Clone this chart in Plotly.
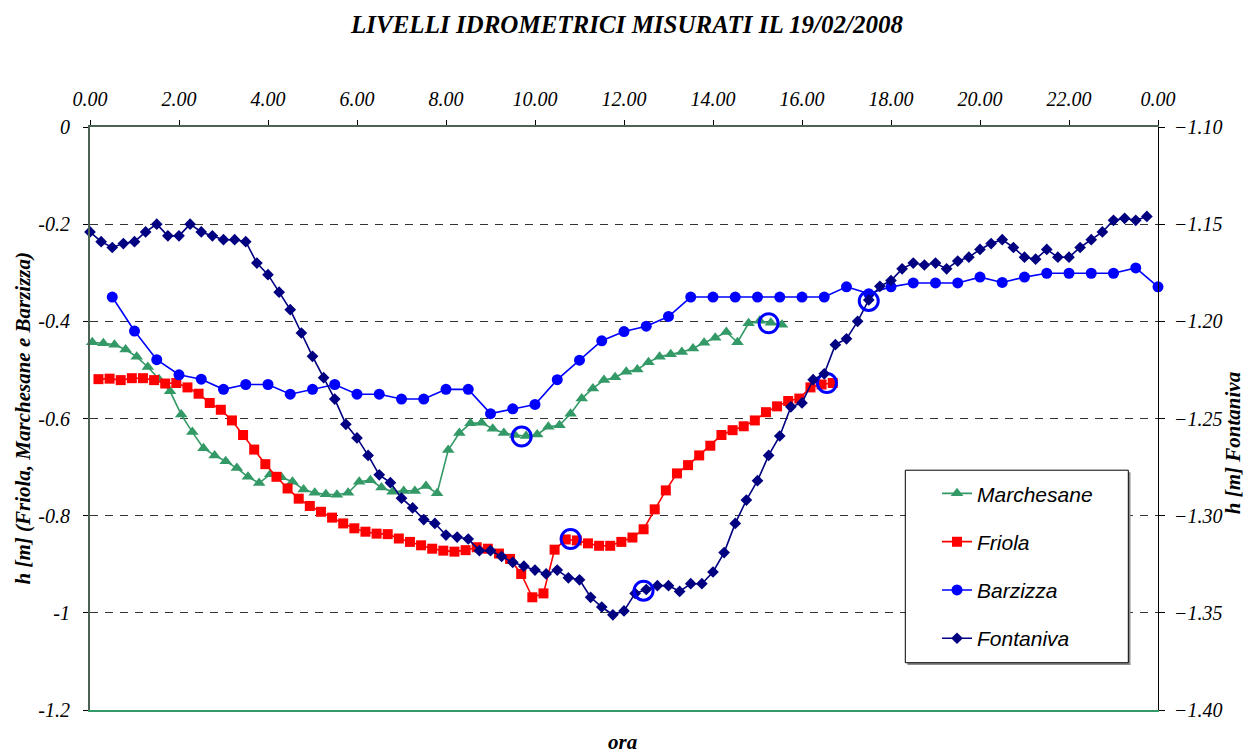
import plotly.graph_objects as go

# ---------------- data ----------------
hour_ticks = [0, 2, 4, 6, 8, 10, 12, 14, 16, 18, 20, 22, 24]
hour_labels = ["0.00", "2.00", "4.00", "6.00", "8.00", "10.00", "12.00",
               "14.00", "16.00", "18.00", "20.00", "22.00", "0.00"]

left_ticks = [0, -0.2, -0.4, -0.6, -0.8, -1.0, -1.2]
left_labels = ["0", "-0.2", "-0.4", "-0.6", "-0.8", "-1", "-1.2"]

# Marchesane: first reading 0.05 h, every 15 min
marchesane_start, marchesane_step = 0.05, 0.25
marchesane = [-0.443, -0.445, -0.448, -0.458, -0.473, -0.494, -0.519, -0.544,
              -0.592, -0.628, -0.661, -0.676, -0.688, -0.702, -0.720, -0.733,
              -0.715, -0.721, -0.730, -0.746, -0.753, -0.756, -0.757, -0.753,
              -0.730, -0.727, -0.742, -0.751, -0.749, -0.749, -0.739, -0.754,
              -0.665, -0.630, -0.610, -0.609, -0.621, -0.630, -0.634, -0.636,
              -0.633, -0.617, -0.614, -0.590, -0.559, -0.538, -0.521, -0.515,
              -0.504, -0.499, -0.484, -0.473, -0.468, -0.463, -0.456, -0.444,
              -0.434, -0.422, -0.443, -0.404, -0.399, -0.403, -0.407]

# Friola: first reading 0.19 h, every 15 min
friola_start, friola_step = 0.19, 0.25
friola = [-0.519, -0.518, -0.521, -0.517, -0.517, -0.521, -0.528, -0.527,
          -0.536, -0.549, -0.568, -0.582, -0.604, -0.634, -0.664, -0.694,
          -0.720, -0.744, -0.765, -0.780, -0.792, -0.804, -0.816, -0.826,
          -0.833, -0.837, -0.838, -0.847, -0.854, -0.861, -0.868, -0.872,
          -0.874, -0.871, -0.865, -0.868, -0.878, -0.889, -0.920, -0.968,
          -0.960, -0.870, -0.849, -0.851, -0.857, -0.862, -0.862, -0.854,
          -0.845, -0.828, -0.787, -0.748, -0.713, -0.696, -0.676, -0.656,
          -0.634, -0.624, -0.616, -0.604, -0.587, -0.575, -0.564, -0.559,
          -0.536, -0.530, -0.527]

# Barzizza: first reading 0.5 h, every 30 min
barzizza_start, barzizza_step = 0.5, 0.5
barzizza = [-0.350, -0.420, -0.479, -0.510, -0.519, -0.540, -0.530, -0.530,
            -0.550, -0.540, -0.530, -0.550, -0.550, -0.560, -0.560, -0.540,
            -0.540, -0.590, -0.580, -0.571, -0.520, -0.480, -0.440, -0.421,
            -0.410, -0.390, -0.350, -0.350, -0.350, -0.350, -0.350, -0.350,
            -0.350, -0.329, -0.343, -0.329, -0.321, -0.321, -0.321, -0.309,
            -0.320, -0.309, -0.301, -0.301, -0.301, -0.301, -0.290, -0.329]

# Fontaniva (right axis): first reading 0.0 h, every 15 min
fontaniva_start, fontaniva_step = 0.0, 0.25
fontaniva = [-1.154, -1.159, -1.162, -1.160, -1.159, -1.154, -1.150, -1.156,
             -1.156, -1.150, -1.154, -1.156, -1.158, -1.158, -1.159, -1.170,
             -1.176, -1.185, -1.194, -1.206, -1.218, -1.229, -1.240, -1.253,
             -1.260, -1.269, -1.279, -1.283, -1.291, -1.296, -1.302, -1.304,
             -1.310, -1.311, -1.312, -1.318, -1.318, -1.321, -1.324, -1.326,
             -1.328, -1.330, -1.328, -1.332, -1.333, -1.342, -1.347, -1.351,
             -1.349, -1.340, -1.338, -1.336, -1.336, -1.339, -1.335, -1.335,
             -1.329, -1.319, -1.304, -1.292, -1.282, -1.269, -1.259, -1.244,
             -1.242, -1.230, -1.227, -1.212, -1.209, -1.200, -1.189, -1.182,
             -1.179, -1.173, -1.170, -1.171, -1.170, -1.173, -1.169, -1.167,
             -1.163, -1.160, -1.158, -1.162, -1.167, -1.168, -1.163, -1.167,
             -1.167, -1.162, -1.158, -1.154, -1.148, -1.147, -1.148, -1.146]

# highlighted readings (blue rings)
ring_left_t = [9.70, 15.25, 10.80, 16.56]
ring_left_h = [-0.637, -0.404, -0.848, -0.527]
ring_right_t = [12.44, 17.50]
ring_right_h = [-1.3386, -1.1895]


def times(start, step, n):
    return [round(start + i * step, 3) for i in range(n)]


SERIF = "Liberation Serif"
SANS = "Liberation Sans"
AXIS_COL = "#4a6354"

fig = go.Figure()

fig.add_trace(go.Scatter(
    x=times(marchesane_start, marchesane_step, len(marchesane)), y=marchesane,
    name="Marchesane", legendgroup="m", mode="lines+markers",
    line=dict(color="#339966", width=1.6),
    marker=dict(symbol="triangle-up", size=11, color="#339966"),
    xaxis="x", yaxis="y", cliponaxis=False))

fig.add_trace(go.Scatter(
    x=times(friola_start, friola_step, len(friola)), y=friola,
    name="Friola", legendgroup="f", mode="lines+markers",
    line=dict(color="#FF0000", width=1.6),
    marker=dict(symbol="square", size=10, color="#FF0000"),
    xaxis="x", yaxis="y", cliponaxis=False))

fig.add_trace(go.Scatter(
    x=times(barzizza_start, barzizza_step, len(barzizza)), y=barzizza,
    name="Barzizza", legendgroup="b", mode="lines+markers",
    line=dict(color="#0000FF", width=1.6),
    marker=dict(symbol="circle", size=11, color="#0000FF"),
    xaxis="x", yaxis="y", cliponaxis=False))

fig.add_trace(go.Scatter(
    x=ring_left_t, y=ring_left_h, mode="markers", showlegend=False,
    marker=dict(symbol="circle-open", size=19, color="#0000FF", line=dict(width=3)),
    xaxis="x", yaxis="y", hoverinfo="skip"))

fig.add_trace(go.Scatter(
    x=times(fontaniva_start, fontaniva_step, len(fontaniva)), y=fontaniva,
    name="Fontaniva", legendgroup="n", mode="lines+markers",
    line=dict(color="#000080", width=1.6),
    marker=dict(symbol="diamond", size=9, color="#000080"),
    xaxis="x2", yaxis="y2", cliponaxis=False))

fig.add_trace(go.Scatter(
    x=ring_right_t, y=ring_right_h, mode="markers", showlegend=False,
    marker=dict(symbol="circle-open", size=19, color="#0000FF", line=dict(width=3)),
    xaxis="x2", yaxis="y2", hoverinfo="skip"))

tickfont = dict(family=SERIF, size=20, style="italic", color="black")
titlefont = dict(family=SERIF, size=21, style="italic", weight="bold", color="black")

# the page body adds an 8px margin; figure is sized so the plot lands where it should
PAGE = 8
W, H = 1244, 745
PL, PR, PT, PB = 90, 1158, 126.5, 710  # plot area in screen pixels
L, T = PL - PAGE, PT - PAGE
R, B = W + PAGE - PR, H + PAGE - PB


def px_x(p):
    return (p - PL) / (PR - PL)


def px_y(p):
    return (PB - p) / (PB - PT)


fig.update_layout(
    width=W, height=H,
    margin=dict(l=L, r=R, t=T, b=B),
    paper_bgcolor="white", plot_bgcolor="white",
    title=dict(text="LIVELLI IDROMETRICI MISURATI IL 19/02/2008",
               x=(627 - PAGE) / W, xanchor="center", y=1 - (24 - PAGE) / H, yanchor="middle",
               font=dict(family=SERIF, size=25, style="italic", weight="bold", color="black")),
    xaxis=dict(range=[0, 24], side="bottom", showline=True, linecolor="#339966",
               linewidth=1.5, showticklabels=False, ticks="", showgrid=False,
               zeroline=False, anchor="y"),
    xaxis2=dict(range=[0, 24], side="top", overlaying="x", anchor="y2",
                tickmode="array", tickvals=hour_ticks, ticktext=hour_labels,
                ticks="outside", ticklen=5, tickcolor="black", tickwidth=1,
                ticklabelstandoff=6,
                showline=True, linecolor=AXIS_COL, linewidth=2,
                tickfont=tickfont, showgrid=False, zeroline=False),
    yaxis=dict(range=[-1.2, 0], tickmode="array", tickvals=left_ticks,
               ticktext=left_labels, ticks="outside", ticklen=5, tickcolor="black",
               ticklabelstandoff=9,
               showline=True, linecolor=AXIS_COL, linewidth=2,
               tickfont=tickfont, showgrid=True, gridcolor="#333333",
               griddash="8px,7px", gridwidth=1, zeroline=False, anchor="x"),
    yaxis2=dict(range=[-1.40, -1.10], dtick=0.05, tick0=-1.10, tickformat=".2f",
                side="right", overlaying="y", anchor="x2",
                ticks="outside", ticklen=6, tickcolor="black",
                ticklabelstandoff=5,
                showline=True, linecolor="black", linewidth=1.2,
                tickfont=tickfont, showgrid=False, zeroline=False),
    legend=dict(x=px_x(937), y=px_y(473), xanchor="left", yanchor="top",
                bgcolor="rgba(0,0,0,0)", borderwidth=0, tracegroupgap=18,
                font=dict(family=SANS, size=21, style="italic", color="black")),
    showlegend=True,
)

# legend frame (with a light shadow)
fig.add_shape(type="rect", xref="paper", yref="paper",
              x0=px_x(907.5), x1=px_x(1130.5), y0=px_y(665), y1=px_y(472),
              fillcolor="#8c8c8c", line=dict(width=0), layer="above")
fig.add_shape(type="rect", xref="paper", yref="paper",
              x0=px_x(905.3), x1=px_x(1128.3), y0=px_y(662.7), y1=px_y(470),
              fillcolor="white", line=dict(color="black", width=1), layer="above")

# axis titles
fig.add_annotation(text="h [m] (Friola, Marchesane e Barzizza)", xref="paper", yref="paper",
                   x=px_x(22), y=0.5, xanchor="center", yanchor="middle",
                   textangle=-90, showarrow=False, font=titlefont)
fig.add_annotation(text="h [m] Fontaniva", xref="paper", yref="paper",
                   x=px_x(1233), y=px_y(443), xanchor="center", yanchor="middle",
                   textangle=-90, showarrow=False, font=titlefont)
fig.add_annotation(text="ora", xref="paper", yref="paper",
                   x=px_x(622), y=px_y(742), xanchor="center", yanchor="middle",
                   showarrow=False, font=titlefont)

fig.write_html("out.html")
